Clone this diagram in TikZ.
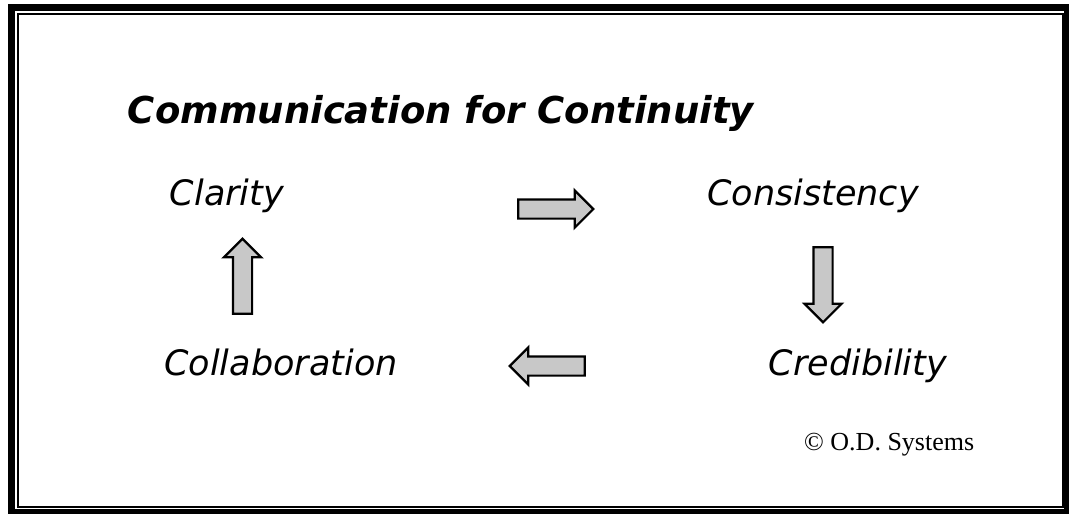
\documentclass[tikz,border=0pt]{standalone}
\usepackage{fontspec}
\setmainfont{DejaVu Sans}
\newfontfamily\timesfont{Liberation Serif}
\usetikzlibrary{shapes.arrows}
\definecolor{arrowgray}{HTML}{C8C8C8}

\begin{document}
\begin{tikzpicture}[
    x=1pt, y=-1pt,
    heading/.style={font=\fontsize{37}{42}\selectfont\bfseries\itshape, anchor=base, inner sep=0pt},
    word/.style={font=\fontsize{35}{40}\selectfont\itshape, anchor=base, inner sep=0pt},
    blockarrow/.style={single arrow, draw, line width=2.2pt, fill=arrowgray, inner xsep=0pt, inner ysep=8.5pt, single arrow head extend=9pt, minimum height=75pt},
]
\useasboundingbox (0,0) rectangle (1069,514);

% double frame, thick outside
\draw[line width=7pt] (11.5,7.5) rectangle (1067.5,512.5);
\draw[line width=2pt] (17.5,14) rectangle (1062.5,507);

\node[heading] (title) at (441,123) {Communication for Continuity};

\node[word] (clarity) at (227,205) {Clarity};
\node[word] (consistency) at (813,205) {Consistency};
\node[word] (credibility) at (858,375) {Credibility};
\node[word] (collaboration) at (281,375) {Collaboration};

\node[blockarrow] (toconsistency) at (551,209) {};
\node[blockarrow, rotate=-90] (tocredibility) at (823,280) {};
\node[blockarrow, rotate=180] (tocollaboration) at (552,366) {};
\node[blockarrow, rotate=90] (toclarity) at (242.5,281) {};

\node[font=\timesfont\fontsize{26}{30}\selectfont, anchor=base west, inner sep=0pt] (owner) at (804,450) {\textcopyright{} O.D. Systems};
\end{tikzpicture}
\end{document}
